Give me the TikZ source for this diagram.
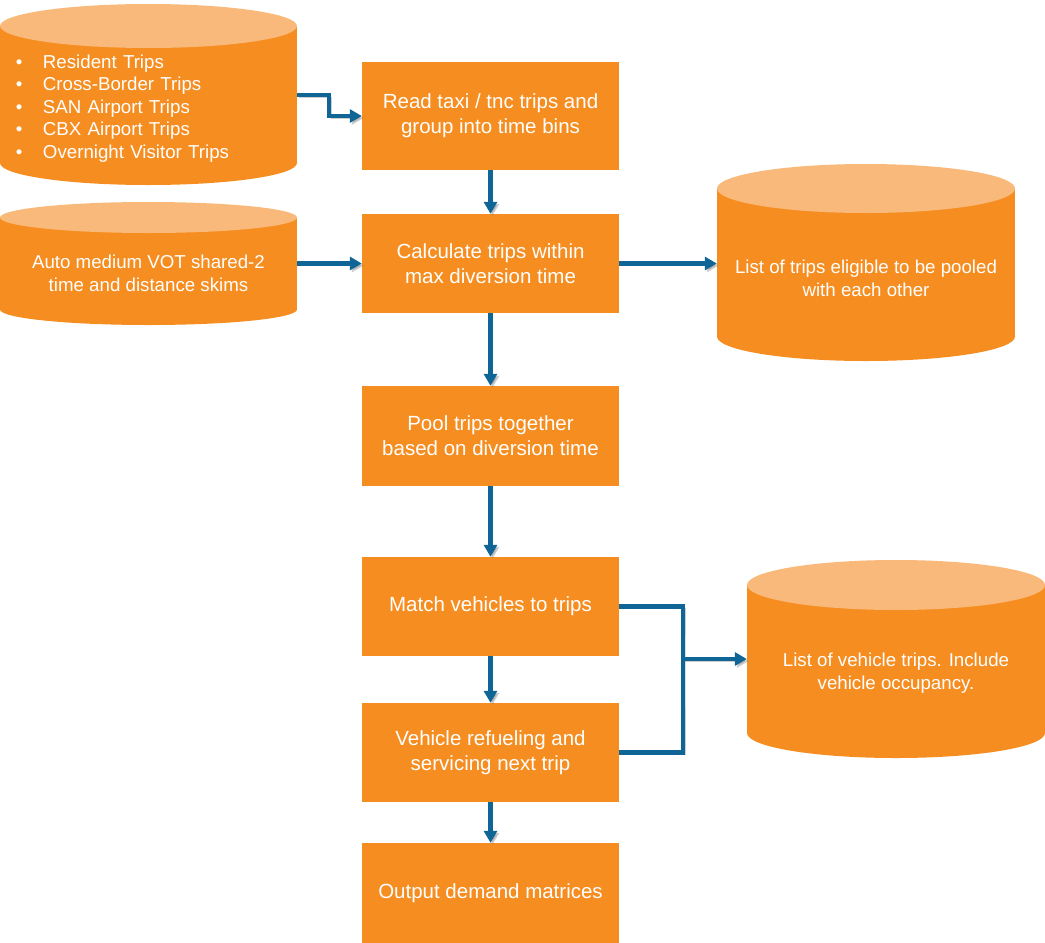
\documentclass[tikz,border=0pt]{standalone}
\usepackage{fontspec}
\setmainfont{Liberation Sans}
\usetikzlibrary{arrows.meta}
\definecolor{orng}{HTML}{F68D20}
\definecolor{orngtop}{HTML}{F9B97A}
\definecolor{flowblue}{HTML}{0E6596}
\newcommand\dbcyl[5]{% x1 x2 cyTop cyBot ry
  \fill[orng] (#1,#3) rectangle (#2,#4);
  \fill[orng] ({(#1+#2)/2},#4) ellipse [x radius={(#2-#1)/2}, y radius=#5];
  \fill[orngtop] ({(#1+#2)/2},#3) ellipse [x radius={(#2-#1)/2}, y radius=#5];
}
\tikzset{
  stepbox/.style={fill=orng, text=white, minimum width=257pt, inner sep=0pt,
    align=center, font=\fontsize{20.5}{25}\selectfont},
  cyltext/.style={text=white, inner sep=0pt, align=center,
    font=\fontsize{18.7}{22.5}\selectfont},
  flowshadow/.style={preaction={draw=black!55, opacity=0.35,
    transform canvas={shift={(2pt,-2pt)}}}},
  flow/.style={draw=flowblue, line width=4.2pt, line join=miter,
    -{Triangle[length=12pt,width=13pt]}, flowshadow},
  flowline/.style={draw=flowblue, line width=4.2pt, line join=miter, flowshadow}
}
\begin{document}
\begin{tikzpicture}[x=1pt,y=-1pt]
\useasboundingbox (0,0) rectangle (1045,943);
% cylinders
\dbcyl{0}{297}{26}{163}{22}
\dbcyl{0}{297}{217.5}{309.5}{15.5}
\dbcyl{717}{1015}{188.5}{336.5}{24.5}
\dbcyl{747}{1045}{585}{733}{25}
\node[cyltext, align=left, text width=265pt, inner xsep=16pt, minimum width=297pt] (src1) at (148.5,108.5)
  {\makebox[27pt][l]{•}Resident Trips\\
   \makebox[27pt][l]{•}Cross-Border Trips\\
   \makebox[27pt][l]{•}SAN Airport Trips\\
   \makebox[27pt][l]{•}CBX Airport Trips\\
   \makebox[27pt][l]{•}Overnight Visitor Trips};
\node[cyltext, minimum width=297pt] (skims) at (148.5,273.5)
  {Auto medium VOT shared-2\\time and distance skims};
\node[cyltext, minimum width=298pt] (pooled) at (866,278.5)
  {List of trips eligible to be pooled\\with each other};
\node[cyltext, minimum width=298pt] (vtrips) at (896,673)
  {List of vehicle trips. Include\\vehicle occupancy.};
% process boxes
\node[stepbox, minimum height=108pt] (read) at (490.5,116) {Read taxi / tnc trips and\\group into time bins};
\node[stepbox, minimum height=99pt] (calc) at (490.5,263.5) {Calculate trips within\\max diversion time};
\node[stepbox, minimum height=100pt] (pool) at (490.5,436) {Pool trips together\\based on diversion time};
\node[stepbox, minimum height=99pt] (match) at (490.5,606.5) {Match vehicles to trips};
\node[stepbox, minimum height=99pt] (refuel) at (490.5,752.5) {Vehicle refueling and\\servicing next trip};
\node[stepbox, minimum height=100pt] (out) at (490.5,893) {Output demand matrices};
% connectors
\coordinate (j1) at (329,95);
\draw[flow] (j1 -| src1.east) -- (j1) |- (read.west);
\draw[flow] (skims.east |- calc.west) -- (calc.west);
\draw[flow] (calc.east) -- (calc.east -| pooled.west);
\draw[flow] (read.south) -- (calc.north);
\draw[flow] (calc.south) -- (pool.north);
\draw[flow] (pool.south) -- (match.north);
\draw[flow] (match.south) -- (refuel.north);
\draw[flow] (refuel.south) -- (out.north);
\coordinate (br) at (683,659);
\draw[flowline] (match.east) -| (br) |- (refuel.east);
\draw[flow] (br) -- (br -| vtrips.west);
\end{tikzpicture}
\end{document}
